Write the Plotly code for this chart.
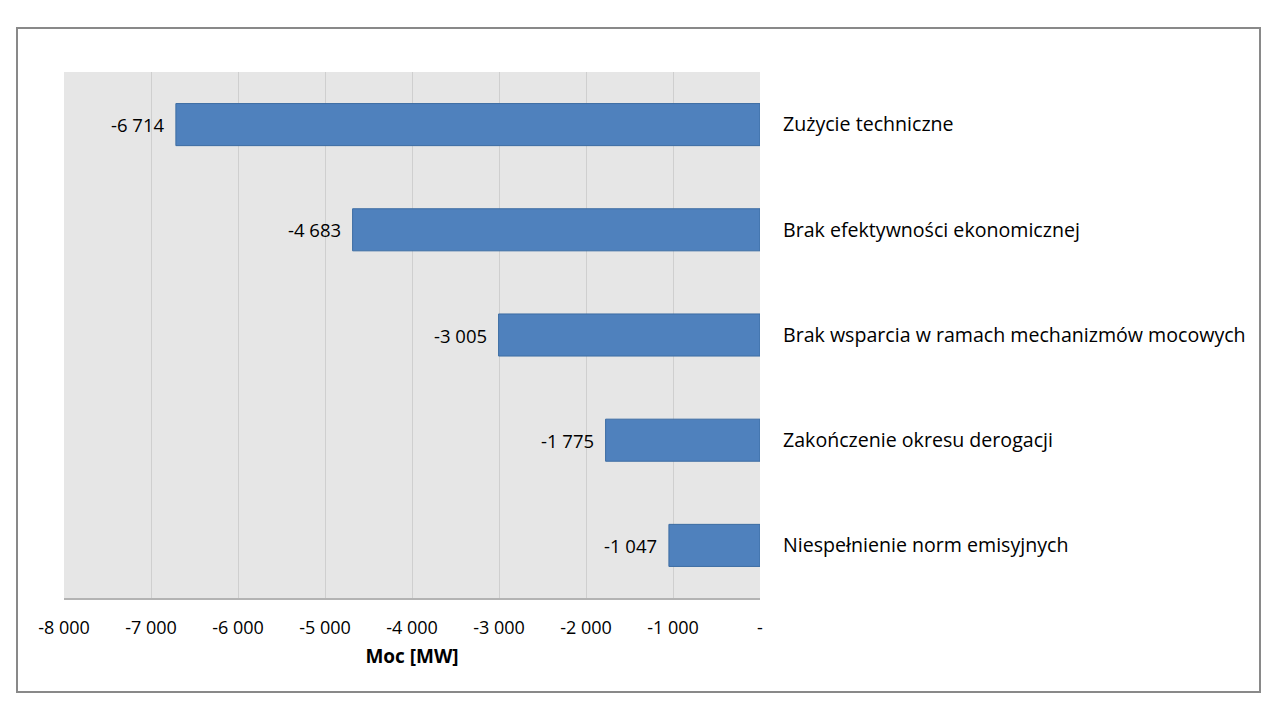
import plotly.graph_objects as go

categories = [
    "Zużycie techniczne",
    "Brak efektywności ekonomicznej",
    "Brak wsparcia w ramach mechanizmów mocowych",
    "Zakończenie okresu derogacji",
    "Niespełnienie norm emisyjnych",
]
values = [-6714, -4683, -3005, -1775, -1047]
tick_vals = [-8000, -7000, -6000, -5000, -4000, -3000, -2000, -1000, 0]
tick_text = ["-8 000", "-7 000", "-6 000", "-5 000", "-4 000", "-3 000", "-2 000", "-1 000", "-"]
x_title = "Moc [MW]"

W, H = 1280, 720
ml, mr, mt, mb = 64, 520, 72, 122
pw, ph = W - ml - mr, H - mt - mb

font = "'Open Sans', 'Noto Sans', sans-serif"

fig = go.Figure()
fig.add_trace(go.Bar(
    y=categories, x=values, orientation="h", width=0.4,
    marker=dict(color="#4f81bd", line=dict(color="#3d6da3", width=1)),
    hoverinfo="skip",
))

def fmt(v):
    s = f"{abs(v):,}".replace(",", " ")
    return ("-" if v < 0 else "") + s

for c, v in zip(categories, values):
    fig.add_annotation(x=v, y=c, text=fmt(v), showarrow=False, xanchor="right",
                       xshift=-10, font=dict(family=font, size=18.5, color="#000000"))

# outer border in paper coordinates
x0 = (17 - ml) / pw
x1 = (1260 - ml) / pw
y1 = 1 + (mt - 28) / ph
y0 = -(692 - (H - mb)) / ph
fig.add_shape(type="rect", xref="paper", yref="paper", x0=x0, x1=x1, y0=y0, y1=y1,
              line=dict(color="#898989", width=2), fillcolor="rgba(0,0,0,0)", layer="below")

fig.update_layout(
    width=W, height=H, margin=dict(l=ml, r=mr, t=mt, b=mb),
    paper_bgcolor="#ffffff", plot_bgcolor="#e6e6e6",
    showlegend=False, bargap=0.6,
    font=dict(family=font, size=18, color="#000000"),
    xaxis=dict(range=[-8000, 0], tickvals=tick_vals, ticktext=tick_text,
               showgrid=True, gridcolor="#cfcfcf", gridwidth=1, zeroline=False,
               showline=True, linecolor="#b3b3b3", linewidth=2, ticks="",
               ticklabelstandoff=12,
               tickfont=dict(family=font, size=18, color="#000000"),
               title=dict(text="<b>" + x_title + "</b>", font=dict(family=font, size=19), standoff=12),
               fixedrange=True),
    yaxis=dict(side="right", autorange="reversed", showgrid=False, zeroline=False,
               showline=False, ticks="", ticklabelstandoff=22,
               tickfont=dict(family=font, size=19.6, color="#000000"), fixedrange=True),
)

fig.write_html("out.html")
